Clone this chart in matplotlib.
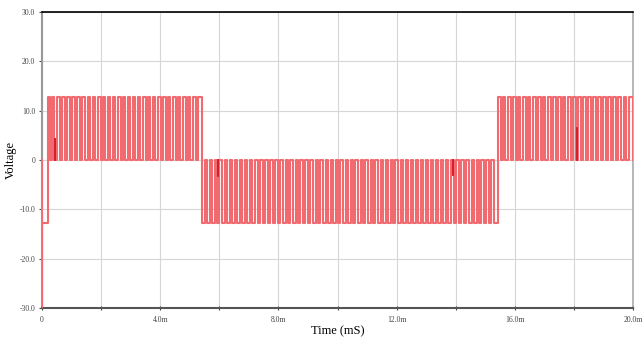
import matplotlib
matplotlib.use('Agg')
import matplotlib.pyplot as plt
import numpy as np

plt.rcParams['font.family'] = ['Liberation Serif', 'DejaVu Serif']

# 数据：PWM 逆变器输出电压（时间单位 ms）
level = 12.7  # 脉冲幅值 (V)

# 起始暂态
start_t = [0.0, 0.0, 0.0, 0.19]
start_v = [0.0, -30.0, -12.7, -12.7]

# 正半周 1：脉冲起点与宽度
pos1_on = [0.19, 0.35, 0.52, 0.69, 0.86, 1.03, 1.20, 1.37, 1.54, 1.71, 1.88,
           2.05, 2.22, 2.39, 2.56, 2.73, 2.90, 3.07, 3.24, 3.41, 3.58, 3.75,
           3.92, 4.09, 4.26, 4.43, 4.60, 4.77, 4.94, 5.11, 5.28]
pos1_w = [0.09, 0.07, 0.10, 0.08, 0.09, 0.07, 0.10, 0.08, 0.09, 0.09, 0.10,
          0.08, 0.09, 0.07, 0.10, 0.09, 0.08, 0.09, 0.08, 0.10, 0.09, 0.07,
          0.09, 0.10, 0.08, 0.09, 0.08, 0.10, 0.07, 0.09, 0.14]

# 负半周
neg_on = [5.42, 5.59, 5.76, 5.93, 6.10, 6.27, 6.44, 6.61, 6.78, 6.95, 7.12,
          7.29, 7.46, 7.63, 7.80, 7.97, 8.14, 8.31, 8.48, 8.65, 8.82, 8.99,
          9.16, 9.33, 9.50, 9.67, 9.84, 10.01, 10.18, 10.35, 10.52, 10.69,
          10.86, 11.03, 11.20, 11.37, 11.54, 11.71, 11.88, 12.05, 12.22,
          12.39, 12.56, 12.73, 12.90, 13.07, 13.24, 13.41, 13.58, 13.75,
          13.92, 14.09, 14.26, 14.43, 14.60, 14.77, 14.94, 15.11, 15.28]
neg_w = [0.10, 0.08, 0.09, 0.07, 0.10, 0.09, 0.10, 0.08, 0.09, 0.10, 0.07,
         0.09, 0.10, 0.08, 0.09, 0.07, 0.10, 0.09, 0.10, 0.08, 0.09, 0.08,
         0.10, 0.07, 0.09, 0.09, 0.10, 0.08, 0.09, 0.10, 0.07, 0.10, 0.08,
         0.09, 0.08, 0.10, 0.09, 0.09, 0.07, 0.10, 0.10, 0.08, 0.09, 0.09,
         0.08, 0.10, 0.09, 0.07, 0.09, 0.10, 0.08, 0.09, 0.08, 0.10, 0.10,
         0.08, 0.09, 0.09, 0.14]

# 正半周 2
pos2_on = [15.42, 15.59, 15.76, 15.93, 16.10, 16.27, 16.44, 16.61, 16.78,
           16.95, 17.12, 17.29, 17.46, 17.63, 17.80, 17.97, 18.14, 18.31,
           18.48, 18.65, 18.82, 18.99, 19.16, 19.33, 19.50, 19.67, 19.84]
pos2_w = [0.09, 0.08, 0.10, 0.09, 0.07, 0.09, 0.08, 0.10, 0.09, 0.08, 0.09,
          0.09, 0.10, 0.07, 0.09, 0.08, 0.10, 0.09, 0.08, 0.09, 0.09, 0.10,
          0.08, 0.09, 0.07, 0.09, 0.16]

# 未达满幅的窄脉冲
glitch_t = [0.44, 5.96, 13.89, 18.09]
glitch_v = [4.3, -3.3, -3.0, 6.5]

# 组合成阶梯波形
events = []
for on, w in zip(pos1_on, pos1_w):
    events.append((on, w, level))
for on, w in zip(neg_on, neg_w):
    events.append((on, w, -level))
for on, w in zip(pos2_on, pos2_w):
    events.append((on, w, level))
for t, v in zip(glitch_t, glitch_v):
    events.append((t, 0.004, v))
events.sort()

t_all = list(start_t)
v_all = list(start_v)
for on, w, v in events:
    t_all += [on, on, on + w, on + w]
    v_all += [0.0, v, v, 0.0]

fig = plt.figure(figsize=(6.42, 3.45), dpi=100)
ax = fig.add_axes([0.0654, 0.107, 0.921, 0.858])

ax.plot(t_all, v_all, color='#f06a70', linewidth=1.5, zorder=3)
# 毛刺用深红色单独强调
for t, v in zip(glitch_t, glitch_v):
    ax.plot([t, t], [0, v], color='#d01020', linewidth=1.2, zorder=4)

ax.set_xlim(0, 20)
ax.set_ylim(-30, 30)

xticks = np.arange(0, 21, 2)
xlabels = ['0', '', '4.0m', '', '8.0m', '', '12.0m', '', '16.0m', '', '20.0m']
ax.set_xticks(xticks)
ax.set_xticklabels(xlabels, fontsize=5.5)
yticks = [-30, -20, -10, 0, 10, 20, 30]
ylabels = ['-30.0', '-20.0', '-10.0', '0', '10.0', '20.0', '30.0']
ax.set_yticks(yticks)
ax.set_yticklabels(ylabels, fontsize=5.5)

ax.tick_params(axis='x', direction='inout', length=3, width=0.8, colors='#444444', pad=4)
ax.tick_params(axis='y', direction='out', length=2, width=0.8, colors='#444444', pad=3)

ax.grid(color='#d6d6d6', linewidth=0.8, zorder=0)

ax.spines['top'].set_color('black')
ax.spines['top'].set_linewidth(1.2)
ax.spines['bottom'].set_color('#555555')
ax.spines['bottom'].set_linewidth(1.5)
ax.spines['left'].set_color('#999999')
ax.spines['left'].set_linewidth(1.5)
ax.spines['right'].set_color('#aaaaaa')
ax.spines['right'].set_linewidth(1.2)

ax.set_xlabel('Time (mS)', fontsize=9, labelpad=1)
ax.set_ylabel('Voltage', fontsize=9, labelpad=2)

fig.savefig('out.png', dpi=100, facecolor='white')
plt.close(fig)
